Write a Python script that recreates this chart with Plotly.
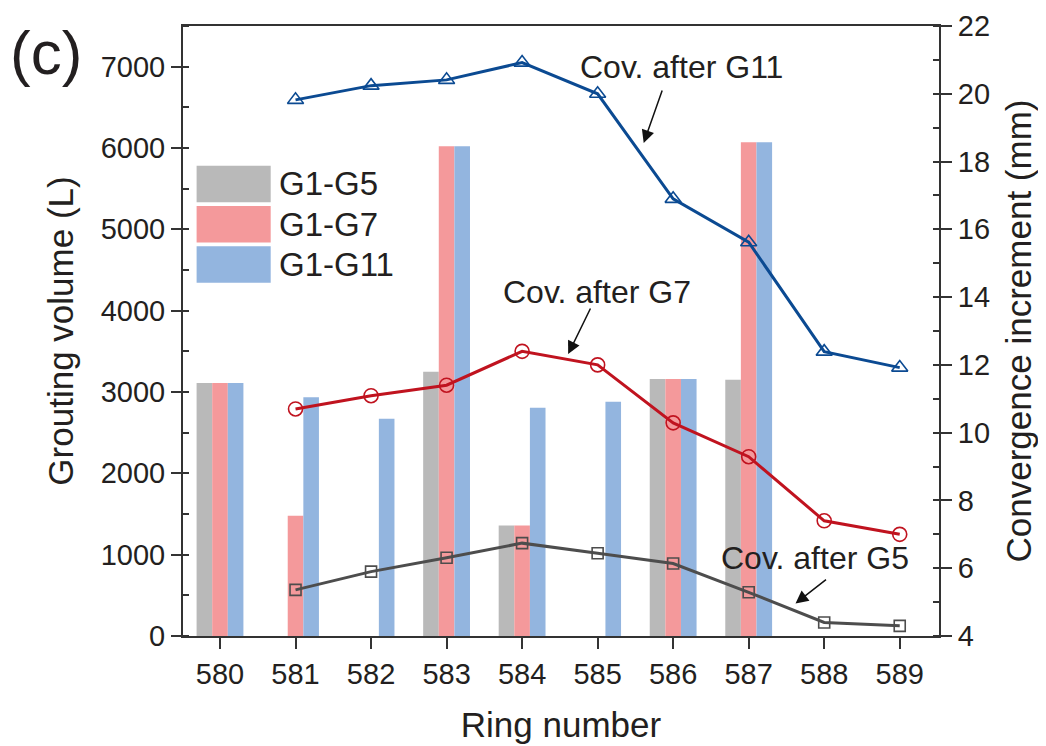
import plotly.graph_objects as go

# ---------------- data ----------------
rings = [580, 581, 582, 583, 584, 585, 586, 587, 588, 589]

bar_names = ["G1-G5", "G1-G7", "G1-G11"]
vol_g5 = [3110, None, None, 3250, 1360, None, 3160, 3150, None, None]
vol_g7 = [3110, 1480, None, 6020, 1360, None, 3160, 6070, None, None]
vol_g11 = [3110, 2935, 2670, 6020, 2805, 2880, 3160, 6070, None, None]

conv_g5 = [None, 5.36, 5.90, 6.31, 6.74, 6.44, 6.14, 5.29, 4.40, 4.30]
conv_g7 = [None, 10.70, 11.09, 11.40, 12.40, 12.00, 10.29, 9.29, 7.40, 7.00]
conv_g11 = [None, 19.82, 20.24, 20.41, 20.92, 20.00, 16.90, 15.62, 12.39, 11.92]

line_names = ["Cov. after G5", "Cov. after G7", "Cov. after G11"]

# ---------------- style ----------------
FONT = "Liberation Sans, Arial, Helvetica, sans-serif"
TXT = "#231f20"
AX = "#333333"
bar_colors = ["#b9b9b9", "#f4999b", "#93b5df"]
line_colors = ["#4d4d4d", "#c0131f", "#0b4a92"]
line_symbols = ["square-open", "circle-open", "triangle-up-open"]
line_msize = [11, 14, 14]

fig = go.Figure()

for name, vals, col in zip(bar_names, [vol_g5, vol_g7, vol_g11], bar_colors):
    fig.add_trace(go.Bar(x=rings, y=vals, name=name, marker=dict(color=col, line=dict(width=0)),
                         showlegend=False, yaxis="y"))

for name, vals, col, sym, ms in zip(line_names, [conv_g5, conv_g7, conv_g11],
                                    line_colors, line_symbols, line_msize):
    fig.add_trace(go.Scatter(x=rings, y=vals, name=name, mode="lines+markers",
                             line=dict(color=col, width=3),
                             marker=dict(symbol=sym, size=ms, color=col,
                                         line=dict(color=col, width=1.6)),
                             showlegend=False, yaxis="y2"))

# ---------------- manual legend (large swatches) ----------------
leg_x0, leg_x1, leg_text_x = 0.018, 0.116, 0.124
leg_tops = [0.771, 0.705, 0.639]
leg_h = 0.060
for name, col, top in zip(bar_names, bar_colors, leg_tops):
    fig.add_shape(type="rect", xref="paper", yref="paper", x0=leg_x0, x1=leg_x1,
                  y0=top - leg_h, y1=top, fillcolor=col, line=dict(width=0), layer="above")
    fig.add_annotation(xref="paper", yref="paper", x=leg_text_x, y=top - leg_h / 2,
                       text=name, showarrow=False, xanchor="left", yanchor="middle",
                       font=dict(family=FONT, size=33, color=TXT))

# ---------------- line labels with arrows ----------------
# (label x, label y2, arrow head x, arrow head y2, tail dx px, tail dy px)
labels = [
    ("Cov. after G11", 586.11, 20.79, 585.61, 18.55, 19, -54),
    ("Cov. after G7", 584.99, 14.15, 584.61, 12.32, 23, -47),
    ("Cov. after G5", 587.88, 6.30, 587.62, 4.96, 32, -25),
]
for text, tx, ty, hx, hy, dx, dy in labels:
    fig.add_annotation(x=tx, y=ty, xref="x", yref="y2", text=text, showarrow=False,
                       xanchor="center", yanchor="middle",
                       font=dict(family=FONT, size=32, color=TXT))
    fig.add_annotation(x=hx, y=hy, xref="x", yref="y2", text="", showarrow=True,
                       ax=dx, ay=dy, axref="pixel", ayref="pixel",
                       arrowhead=2, arrowsize=1.7, arrowwidth=1.5, arrowcolor="#111111",
                       standoff=0, startstandoff=0)

fig.add_annotation(xref="paper", yref="paper", x=-0.181, y=0.957, text="(c)",
                   showarrow=False, xanchor="center", yanchor="middle",
                   font=dict(family=FONT, size=62, color=TXT))

fig.update_layout(
    width=1038, height=738,
    margin=dict(l=175, r=107, t=18, b=110, autoexpand=False),
    paper_bgcolor="white", plot_bgcolor="white",
    barmode="group", bargap=0.38, bargroupgap=0,
    font=dict(family=FONT, size=28, color=TXT),
    xaxis=dict(
        range=[579.51, 589.52], tickmode="array", tickvals=rings,
        ticktext=[str(r) for r in rings], automargin=False,
        showline=True, linecolor=AX, linewidth=2, mirror=True,
        ticks="outside", ticklen=11, tickwidth=2, tickcolor=AX,
        showgrid=False, zeroline=False,
        tickfont=dict(size=29),
        title=dict(text="Ring number", font=dict(size=35), standoff=24),
    ),
    yaxis=dict(
        range=[0, 7500], tickmode="linear", tick0=0, dtick=1000, automargin=False,
        showline=True, linecolor=AX, linewidth=2,
        ticks="outside", ticklen=10, tickwidth=2, tickcolor=AX,
        minor=dict(ticks="inside", ticklen=6, tickwidth=2, tickcolor=AX, dtick=500, tick0=0),
        showgrid=False, zeroline=False,
        tickfont=dict(size=29),
        title=dict(text="Grouting volume (L)", font=dict(size=35), standoff=16),
    ),
    yaxis2=dict(
        range=[4, 22], tickmode="linear", tick0=4, dtick=2, overlaying="y", side="right",
        automargin=False,
        showline=True, linecolor=AX, linewidth=2,
        ticks="outside", ticklen=11, tickwidth=2, tickcolor=AX,
        minor=dict(ticks="inside", ticklen=6, tickwidth=2, tickcolor=AX, dtick=1, tick0=4),
        showgrid=False, zeroline=False,
        tickfont=dict(size=29),
        title=dict(text="Convergence increment (mm)", font=dict(size=35), standoff=17),
    ),
)

fig.write_html("out.html")
